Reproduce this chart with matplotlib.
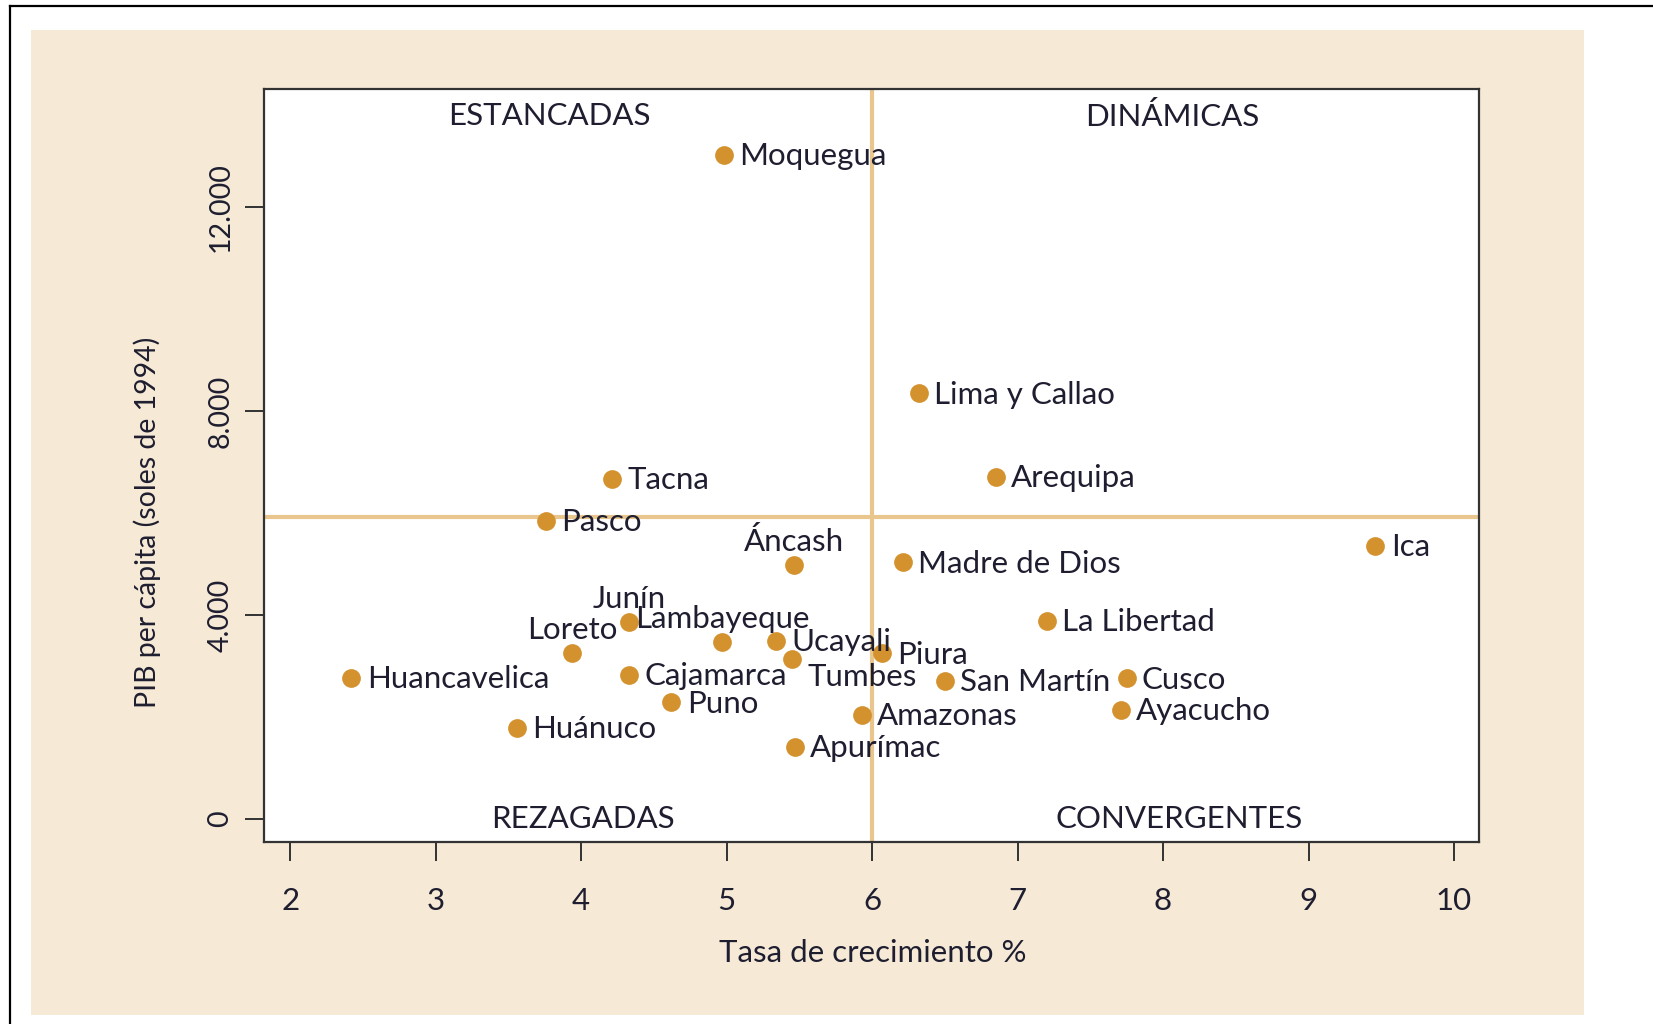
import matplotlib.pyplot as plt
from matplotlib.patches import Rectangle
from matplotlib.lines import Line2D

plt.rcParams['font.family'] = ['Lato', 'DejaVu Sans']

# datos por departamento
regiones = ['Moquegua', 'Lima y Callao', 'Arequipa', 'Tacna', 'Pasco', 'Ica',
            'Áncash', 'Madre de Dios', 'Junín', 'Lambayeque', 'Loreto', 'Ucayali',
            'Tumbes', 'Piura', 'La Libertad', 'Huancavelica', 'Cajamarca',
            'San Martín', 'Cusco', 'Puno', 'Amazonas', 'Ayacucho', 'Huánuco',
            'Apurímac']
crecimiento = [4.98, 6.32, 6.85, 4.21, 3.76, 9.46,
               5.46, 6.21, 4.33, 4.97, 3.94, 5.34,
               5.45, 6.07, 7.20, 2.42, 4.33,
               6.50, 7.75, 4.62, 5.93, 7.71, 3.56,
               5.47]
pib_pc = [13020, 8347, 6712, 6675, 5849, 5353,
          4980, 5033, 3857, 3477, 3249, 3490,
          3131, 3249, 3882, 2767, 2824,
          2706, 2758, 2288, 2039, 2137, 1790,
          1418]
# posicion de la etiqueta (reloj)
label_pos = [3, 3, 3, 3, 3, 3,
             12, 3, 12, 12, 12, 3,
             4, 3, 3, 3, 3,
             3, 3, 3, 3, 3, 3,
             3]

ref_x = 6.0
ref_y = 5930
xticks = [2, 3, 4, 5, 6, 7, 8, 9, 10]
yticks = [0, 4000, 8000, 12000]
ytick_labels = ['0', '4.000', '8.000', '12.000']
cuadrantes = ['ESTANCADAS', 'DINÁMICAS', 'REZAGADAS', 'CONVERGENTES']
cuad_x = [3.78, 8.06, 4.01, 8.11]
cuad_y = [13780, 13780, 0, 0]

TXT = '#1e1e30'
DOT = '#d4922e'
REF = '#e8c68e'
BEIGE = '#f6ead7'
FS = 22.5
FS_V = 20.5

fig = plt.figure(figsize=(16.53, 10.24), dpi=100, facecolor='white')
fig.patches.append(Rectangle((0.01875, 0.00879), 0.93955, 0.96191,
                             transform=fig.transFigure, facecolor=BEIGE,
                             edgecolor='none', zorder=-1))
fig.lines.append(Line2D([0.006, 0.006], [0.0, 0.9945], transform=fig.transFigure,
                        color='black', lw=1.6, zorder=-1))
fig.lines.append(Line2D([0.006, 1.0], [0.9945, 0.9945], transform=fig.transFigure,
                        color='black', lw=1.6, zorder=-1))

ax = fig.add_axes([0.1597, 0.1777, 0.7352, 0.7354])
ax.set_zorder(1)
ax.set_facecolor('white')
ax.set_xlim(1.819, 10.174)
ax.set_ylim(-451, 14314)

ax.axvline(ref_x, color=REF, lw=3, zorder=1)
ax.axhline(ref_y, color=REF, lw=3, zorder=1)

ax.plot(crecimiento, pib_pc, 'o', color=DOT, markersize=13.5, markeredgewidth=0, zorder=3)

offsets = {3: ((11, -7.5), 'left'), 12: ((0, 10), 'center'), 4: ((11, -19.5), 'left')}
for name, x, y, p in zip(regiones, crecimiento, pib_pc, label_pos):
    off, ha = offsets[p]
    ax.annotate(name, (x, y), xytext=off, textcoords='offset points',
                ha=ha, va='baseline', fontsize=FS, color=TXT, zorder=4)

for t, x, y in zip(cuadrantes, cuad_x, cuad_y):
    ax.text(x, y, t, ha='center', va='center', fontsize=FS, color=TXT)

ax.set_xticks(xticks)
ax.set_xticklabels([str(v) for v in xticks], fontsize=FS)
ax.set_yticks(yticks)
ax.set_yticklabels(ytick_labels, rotation=90, va='center', fontsize=FS_V)
ax.tick_params(axis='both', length=14, width=1.4, color='#333333', labelcolor=TXT)
ax.tick_params(axis='x', pad=18.5)
ax.tick_params(axis='y', pad=8)
for s in ax.spines.values():
    s.set_color('#333333')
    s.set_linewidth(1.6)

fig.text(0.528, 0.0693, 'Tasa de crecimiento %', ha='center', va='center',
         fontsize=FS, color=TXT)
fig.text(0.0893, 0.4902, 'PIB per cápita (soles de 1994)', ha='center', va='center',
         rotation=90, fontsize=FS_V, color=TXT)

fig.savefig('out.png', dpi=100, facecolor='white')
